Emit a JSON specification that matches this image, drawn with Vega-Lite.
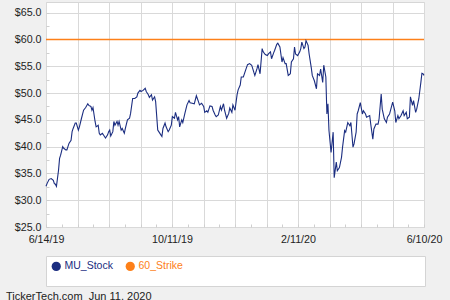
{
  "$schema": "https://vega.github.io/schema/vega-lite/v6.json",
  "width": 378,
  "height": 225,
  "autosize": {"type": "none"},
  "padding": {"left": 46, "top": 2, "right": 26, "bottom": 73},
  "background": "#f0f0f0",
  "config": {
    "view": {"fill": "white", "stroke": "#d6d6d6"},
    "font": "Liberation Sans",
    "axis": {"labelFont": "Liberation Sans", "labelColor": "#222222", "labelFontSize": 10.7, "domain": false, "gridColor": "#d9d9d9", "tickColor": "#cfcfcf", "title": null}
  },
  "title": {"text": "TickerTech.com\u00a0 Jun 11, 2020", "orient": "bottom", "anchor": "start", "frame": "group", "fontSize": 11, "fontWeight": "normal", "color": "#222222", "font": "Liberation Sans", "offset": 4, "dx": -40},
  "datasets": {
    "stock": [
      {"date": "2019-06-14", "price": 32.6}, {"date": "2019-06-15", "price": 33.1}, {"date": "2019-06-17", "price": 33.9}, {"date": "2019-06-19", "price": 34.05}, {"date": "2019-06-21", "price": 33.7}, {"date": "2019-06-22", "price": 33.1}, {"date": "2019-06-23", "price": 33.0}, {"date": "2019-06-24", "price": 32.6}, {"date": "2019-06-26", "price": 35.6}, {"date": "2019-06-27", "price": 37.8}, {"date": "2019-06-28", "price": 38.4}, {"date": "2019-06-30", "price": 40.0},
      {"date": "2019-07-01", "price": 39.7}, {"date": "2019-07-03", "price": 39.4}, {"date": "2019-07-04", "price": 39.4}, {"date": "2019-07-06", "price": 40.6}, {"date": "2019-07-08", "price": 41.2}, {"date": "2019-07-09", "price": 42.8}, {"date": "2019-07-10", "price": 43.4}, {"date": "2019-07-12", "price": 44.4}, {"date": "2019-07-13", "price": 44.4}, {"date": "2019-07-15", "price": 43.1}, {"date": "2019-07-16", "price": 43.7}, {"date": "2019-07-18", "price": 45.3}, {"date": "2019-07-20", "price": 46.8}, {"date": "2019-07-22", "price": 47.3}, {"date": "2019-07-24", "price": 48.0}, {"date": "2019-07-25", "price": 47.7}, {"date": "2019-07-27", "price": 47.5}, {"date": "2019-07-28", "price": 46.8}, {"date": "2019-07-29", "price": 47.3}, {"date": "2019-07-31", "price": 44.7},
      {"date": "2019-08-01", "price": 43.7}, {"date": "2019-08-03", "price": 44.0}, {"date": "2019-08-04", "price": 42.5}, {"date": "2019-08-05", "price": 42.2}, {"date": "2019-08-07", "price": 42.5}, {"date": "2019-08-09", "price": 41.9}, {"date": "2019-08-10", "price": 41.6}, {"date": "2019-08-12", "price": 42.2}, {"date": "2019-08-13", "price": 42.8}, {"date": "2019-08-14", "price": 43.1}, {"date": "2019-08-15", "price": 42.0}, {"date": "2019-08-17", "price": 42.8}, {"date": "2019-08-18", "price": 44.7}, {"date": "2019-08-19", "price": 44.0}, {"date": "2019-08-21", "price": 44.7}, {"date": "2019-08-22", "price": 44.0}, {"date": "2019-08-23", "price": 44.7}, {"date": "2019-08-25", "price": 43.1}, {"date": "2019-08-26", "price": 43.4}, {"date": "2019-08-28", "price": 42.5}, {"date": "2019-08-29", "price": 43.4}, {"date": "2019-08-31", "price": 45.0},
      {"date": "2019-09-02", "price": 45.3}, {"date": "2019-09-03", "price": 46.2}, {"date": "2019-09-05", "price": 49.0}, {"date": "2019-09-07", "price": 49.0}, {"date": "2019-09-09", "price": 49.3}, {"date": "2019-09-10", "price": 50.0}, {"date": "2019-09-12", "price": 50.5}, {"date": "2019-09-13", "price": 50.3}, {"date": "2019-09-15", "price": 50.5}, {"date": "2019-09-17", "price": 50.9}, {"date": "2019-09-18", "price": 50.3}, {"date": "2019-09-20", "price": 49.7}, {"date": "2019-09-21", "price": 49.2}, {"date": "2019-09-23", "price": 49.7}, {"date": "2019-09-24", "price": 48.7}, {"date": "2019-09-26", "price": 49.3}, {"date": "2019-09-27", "price": 48.4}, {"date": "2019-09-29", "price": 43.1}, {"date": "2019-09-30", "price": 42.8},
      {"date": "2019-10-02", "price": 42.2}, {"date": "2019-10-03", "price": 41.9}, {"date": "2019-10-04", "price": 43.4}, {"date": "2019-10-06", "price": 44.4}, {"date": "2019-10-07", "price": 43.7}, {"date": "2019-10-09", "price": 42.8}, {"date": "2019-10-10", "price": 43.1}, {"date": "2019-10-12", "price": 44.0}, {"date": "2019-10-13", "price": 45.6}, {"date": "2019-10-15", "price": 45.3}, {"date": "2019-10-16", "price": 46.4}, {"date": "2019-10-18", "price": 45.0}, {"date": "2019-10-19", "price": 45.6}, {"date": "2019-10-20", "price": 43.7}, {"date": "2019-10-22", "price": 45.0}, {"date": "2019-10-23", "price": 44.5}, {"date": "2019-10-25", "price": 46.2}, {"date": "2019-10-27", "price": 47.8}, {"date": "2019-10-29", "price": 48.6}, {"date": "2019-10-30", "price": 48.2},
      {"date": "2019-11-01", "price": 48.1}, {"date": "2019-11-03", "price": 48.0}, {"date": "2019-11-05", "price": 49.5}, {"date": "2019-11-07", "price": 48.4}, {"date": "2019-11-08", "price": 47.8}, {"date": "2019-11-10", "price": 48.1}, {"date": "2019-11-12", "price": 47.5}, {"date": "2019-11-13", "price": 46.4}, {"date": "2019-11-15", "price": 46.7}, {"date": "2019-11-16", "price": 46.4}, {"date": "2019-11-18", "price": 47.6}, {"date": "2019-11-20", "price": 47.5}, {"date": "2019-11-21", "price": 46.8}, {"date": "2019-11-23", "price": 45.9}, {"date": "2019-11-24", "price": 45.6}, {"date": "2019-11-26", "price": 45.9}, {"date": "2019-11-28", "price": 47.5}, {"date": "2019-11-29", "price": 46.8},
      {"date": "2019-12-01", "price": 48.0}, {"date": "2019-12-02", "price": 46.8}, {"date": "2019-12-04", "price": 45.3}, {"date": "2019-12-06", "price": 46.2}, {"date": "2019-12-07", "price": 47.2}, {"date": "2019-12-09", "price": 46.4}, {"date": "2019-12-10", "price": 47.8}, {"date": "2019-12-12", "price": 46.8}, {"date": "2019-12-14", "price": 49.7}, {"date": "2019-12-15", "price": 50.6}, {"date": "2019-12-17", "price": 51.5}, {"date": "2019-12-18", "price": 53.0}, {"date": "2019-12-20", "price": 53.0}, {"date": "2019-12-22", "price": 54.2}, {"date": "2019-12-24", "price": 55.3}, {"date": "2019-12-26", "price": 55.5}, {"date": "2019-12-28", "price": 55.2}, {"date": "2019-12-30", "price": 53.9}, {"date": "2019-12-31", "price": 53.3},
      {"date": "2020-01-02", "price": 54.5}, {"date": "2020-01-03", "price": 55.3}, {"date": "2020-01-05", "price": 53.6}, {"date": "2020-01-07", "price": 58.3}, {"date": "2020-01-08", "price": 57.7}, {"date": "2020-01-10", "price": 57.2}, {"date": "2020-01-12", "price": 57.0}, {"date": "2020-01-13", "price": 57.3}, {"date": "2020-01-15", "price": 57.7}, {"date": "2020-01-16", "price": 56.4}, {"date": "2020-01-18", "price": 57.5}, {"date": "2020-01-19", "price": 58.0}, {"date": "2020-01-21", "price": 59.1}, {"date": "2020-01-22", "price": 59.3}, {"date": "2020-01-24", "price": 58.6}, {"date": "2020-01-26", "price": 55.8}, {"date": "2020-01-27", "price": 56.6}, {"date": "2020-01-29", "price": 55.5}, {"date": "2020-01-30", "price": 55.5},
      {"date": "2020-02-01", "price": 53.3}, {"date": "2020-02-03", "price": 53.6}, {"date": "2020-02-04", "price": 55.8}, {"date": "2020-02-06", "price": 56.4}, {"date": "2020-02-07", "price": 58.6}, {"date": "2020-02-08", "price": 57.3}, {"date": "2020-02-10", "price": 57.0}, {"date": "2020-02-12", "price": 57.7}, {"date": "2020-02-13", "price": 58.3}, {"date": "2020-02-14", "price": 59.5}, {"date": "2020-02-16", "price": 58.3}, {"date": "2020-02-17", "price": 58.6}, {"date": "2020-02-18", "price": 59.8}, {"date": "2020-02-20", "price": 58.9}, {"date": "2020-02-21", "price": 57.3}, {"date": "2020-02-23", "price": 54.8}, {"date": "2020-02-24", "price": 53.3}, {"date": "2020-02-26", "price": 52.3}, {"date": "2020-02-28", "price": 50.8}, {"date": "2020-02-29", "price": 53.6},
      {"date": "2020-03-02", "price": 53.3}, {"date": "2020-03-03", "price": 54.5}, {"date": "2020-03-05", "price": 52.0}, {"date": "2020-03-06", "price": 55.2}, {"date": "2020-03-08", "price": 53.0}, {"date": "2020-03-09", "price": 46.1}, {"date": "2020-03-10", "price": 48.0}, {"date": "2020-03-11", "price": 43.0}, {"date": "2020-03-13", "price": 38.9}, {"date": "2020-03-15", "price": 42.7}, {"date": "2020-03-16", "price": 34.2}, {"date": "2020-03-18", "price": 37.1}, {"date": "2020-03-19", "price": 35.5}, {"date": "2020-03-21", "price": 36.1}, {"date": "2020-03-23", "price": 38.0}, {"date": "2020-03-24", "price": 39.9}, {"date": "2020-03-26", "price": 43.0}, {"date": "2020-03-27", "price": 42.7}, {"date": "2020-03-29", "price": 44.5}, {"date": "2020-03-31", "price": 43.9},
      {"date": "2020-04-01", "price": 44.5}, {"date": "2020-04-03", "price": 39.9}, {"date": "2020-04-04", "price": 40.5}, {"date": "2020-04-06", "price": 42.7}, {"date": "2020-04-07", "price": 46.1}, {"date": "2020-04-08", "price": 46.7}, {"date": "2020-04-10", "price": 48.2}, {"date": "2020-04-12", "price": 46.1}, {"date": "2020-04-13", "price": 46.7}, {"date": "2020-04-15", "price": 46.1}, {"date": "2020-04-16", "price": 45.5}, {"date": "2020-04-19", "price": 45.8}, {"date": "2020-04-20", "price": 44.2}, {"date": "2020-04-22", "price": 41.4}, {"date": "2020-04-23", "price": 43.3}, {"date": "2020-04-25", "price": 44.2}, {"date": "2020-04-27", "price": 44.2}, {"date": "2020-04-28", "price": 45.2}, {"date": "2020-04-30", "price": 49.8},
      {"date": "2020-05-01", "price": 47.0}, {"date": "2020-05-03", "price": 45.2}, {"date": "2020-05-05", "price": 44.5}, {"date": "2020-05-06", "price": 45.5}, {"date": "2020-05-08", "price": 46.1}, {"date": "2020-05-09", "price": 46.8}, {"date": "2020-05-11", "price": 48.3}, {"date": "2020-05-13", "price": 46.7}, {"date": "2020-05-14", "price": 44.5}, {"date": "2020-05-16", "price": 45.8}, {"date": "2020-05-17", "price": 45.2}, {"date": "2020-05-19", "price": 45.8}, {"date": "2020-05-21", "price": 46.7}, {"date": "2020-05-22", "price": 45.8}, {"date": "2020-05-24", "price": 46.4}, {"date": "2020-05-25", "price": 45.2}, {"date": "2020-05-27", "price": 45.5}, {"date": "2020-05-28", "price": 49.3}, {"date": "2020-05-30", "price": 47.7}, {"date": "2020-05-31", "price": 48.6},
      {"date": "2020-06-02", "price": 46.4}, {"date": "2020-06-03", "price": 47.0}, {"date": "2020-06-05", "price": 48.9}, {"date": "2020-06-07", "price": 52.0}, {"date": "2020-06-08", "price": 53.7}, {"date": "2020-06-09", "price": 53.6}, {"date": "2020-06-10", "price": 53.3}
    ],
    "strike": [
      {"date": "2019-06-14", "price": 60},
      {"date": "2020-06-10", "price": 60}
    ]
  },
  "encoding": {
    "x": {
      "field": "date", "type": "temporal",
      "scale": {"domain": [{"year": 2019, "month": 6, "date": 14}, {"year": 2020, "month": 6, "date": 10}], "nice": false},
      "axis": {
        "values": [
          {"year": 2019, "month": 6, "date": 14}, {"year": 2019, "month": 6, "date": 29, "hours": 2}, {"year": 2019, "month": 7, "date": 14, "hours": 4}, {"year": 2019, "month": 7, "date": 29, "hours": 6},
          {"year": 2019, "month": 8, "date": 13, "hours": 8}, {"year": 2019, "month": 8, "date": 28, "hours": 10}, {"year": 2019, "month": 9, "date": 12, "hours": 12}, {"year": 2019, "month": 9, "date": 27, "hours": 14},
          {"year": 2019, "month": 10, "date": 12, "hours": 16}, {"year": 2019, "month": 10, "date": 27, "hours": 18}, {"year": 2019, "month": 11, "date": 11, "hours": 20}, {"year": 2019, "month": 11, "date": 26, "hours": 22},
          {"year": 2019, "month": 12, "date": 12}, {"year": 2019, "month": 12, "date": 27, "hours": 2}, {"year": 2020, "month": 1, "date": 11, "hours": 4}, {"year": 2020, "month": 1, "date": 26, "hours": 6},
          {"year": 2020, "month": 2, "date": 10, "hours": 8}, {"year": 2020, "month": 2, "date": 25, "hours": 10}, {"year": 2020, "month": 3, "date": 11, "hours": 12}, {"year": 2020, "month": 3, "date": 26, "hours": 14},
          {"year": 2020, "month": 4, "date": 10, "hours": 16}, {"year": 2020, "month": 4, "date": 25, "hours": 18}, {"year": 2020, "month": 5, "date": 10, "hours": 20}, {"year": 2020, "month": 5, "date": 25, "hours": 22},
          {"year": 2020, "month": 6, "date": 10}
        ],
        "grid": true,
        "gridOpacity": {"condition": {"test": "round((datum.value - datetime(2019,5,14)) / 1303200000) % 2 == 0", "value": 1}, "value": 0},
        "ticks": true, "tickSize": -3,
        "labelExpr": "timeFormat(datum.value,'%m%d')=='0614' ? '6/14/19' : timeFormat(datum.value,'%m%d')=='1012' ? '10/11/19' : timeFormat(datum.value,'%m%d')=='0210' ? '2/11/20' : timeFormat(datum.value,'%m%d')=='0610' ? '6/10/20' : ''",
        "labelFlush": false, "labelOverlap": false, "labelBound": false, "labelPadding": 10
      }
    },
    "y": {
      "field": "price", "type": "quantitative",
      "scale": {"domain": [25, 67], "nice": false, "zero": false},
      "axis": {
        "values": [25, 27.5, 30, 32.5, 35, 37.5, 40, 42.5, 45, 47.5, 50, 52.5, 55, 57.5, 60, 62.5, 65],
        "grid": true,
        "gridOpacity": {"condition": {"test": "datum.value % 5 == 0", "value": 1}, "value": 0},
        "ticks": true, "tickSize": -3,
        "labelExpr": "datum.value % 5 == 0 ? '$' + format(datum.value, '.1f') : ''",
        "labelOverlap": false, "labelPadding": 8
      }
    }
  },
  "layer": [
    {
      "data": {"name": "strike"},
      "mark": {"type": "line", "strokeWidth": 1.5},
      "encoding": {
        "color": {"datum": "60_Strike", "type": "nominal"}
      }
    },
    {
      "data": {"name": "stock"},
      "mark": {"type": "line", "strokeWidth": 1.1},
      "encoding": {
        "color": {
          "datum": "MU_Stock", "type": "nominal",
          "scale": {"domain": ["MU_Stock", "60_Strike"], "range": ["#1b2d80", "#fd8019"]},
          "legend": {
            "orient": "none", "legendX": 0, "legendY": 254, "direction": "horizontal",
            "fillColor": "white", "strokeColor": "#d4d4d4", "padding": 5,
            "title": "\u2800\u2800\u2800\u2800\u2800\u2800\u2800\u2800\u2800\u2800\u2800\u2800\u2800\u2800\u2800\u2800\u2800\u2800\u2800\u2800\u2800\u2800\u2800\u2800\u2800\u2800\u2800\u2800\u2800\u2800\u2800\u2800\u2800\u2800\u2800\u2800\u2800\u2800\u2800\u2800\u2800\u2800\u2800\u2800\u2800\u2800\u2800\u2800\u2800\u2800\u2800\u2800\u2800\u2800\u2800\u2800\u2800\u2800\u2800\u2800\u2800\u2800\u2800\u2800\u2800\u2800\u2800\u2800\u2800\u2800\u2800\u2800\u2800\u2800\u2800\u2800\u2800\u2800",
            "titleOrient": "bottom", "titleFontSize": 6.05, "titlePadding": 2, "titleLimit": 1000, "titleFont": "DejaVu Sans",
            "symbolType": "circle", "symbolSize": 85, "symbolStrokeWidth": 0,
            "labelFontSize": 10.5, "labelFont": "Liberation Sans", "labelOffset": 3, "columnPadding": 12,
            "encode": {
              "symbols": {"update": {"fill": {"scale": "color", "field": "value"}, "fillOpacity": {"value": 1}, "opacity": {"value": 1}}},
              "labels": {"update": {"fill": {"scale": "color", "field": "value"}}}
            }
          }
        }
      }
    }
  ]
}
